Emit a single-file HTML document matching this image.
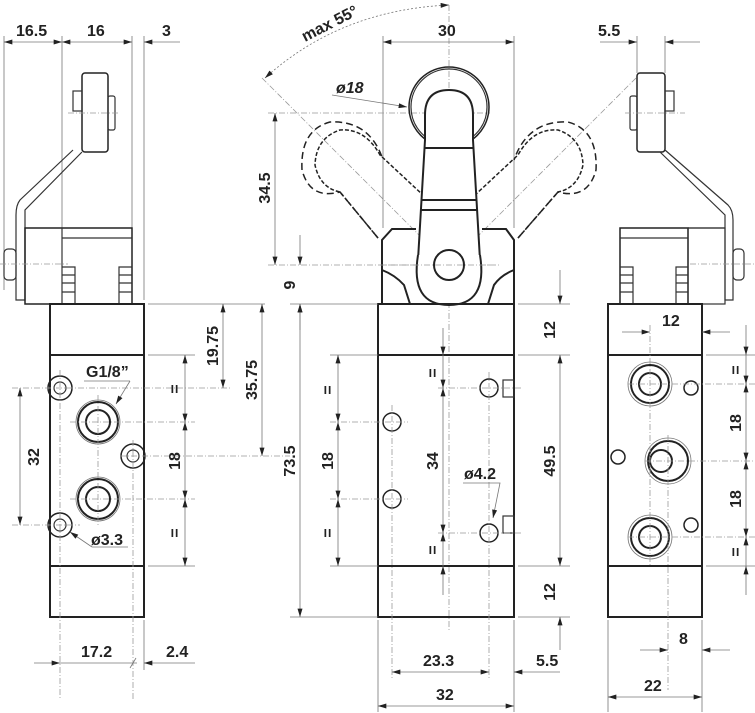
<!DOCTYPE html>
<html><head><meta charset="utf-8"><style>
html,body{margin:0;padding:0;background:#fff}
svg{display:block}
text{font-family:"Liberation Sans",Arial,sans-serif;font-weight:bold;font-size:16px;fill:#222}
.o{stroke:#222;stroke-width:2;fill:none}
.t{stroke:#333;stroke-width:1.2;fill:none}
.d{stroke:#777;stroke-width:0.8;fill:none}
.c{stroke:#999;stroke-width:0.8;fill:none;stroke-dasharray:6 2 1 2}
.h{stroke:#222;stroke-width:1.5;fill:none;stroke-dasharray:7 4}
</style></head><body>
<svg width="755" height="713" viewBox="0 0 755 713" xmlns="http://www.w3.org/2000/svg">
<defs>
<marker id="a" viewBox="0 0 10 6" refX="10" refY="3" markerWidth="14" markerHeight="5" orient="auto-start-reverse" markerUnits="userSpaceOnUse"><path d="M0,0L10,3L0,6z" fill="#222"/></marker>
</defs>

<g>
<line class="d" x1="4" y1="36" x2="4" y2="290"/>
<line class="d" x1="62" y1="36" x2="62" y2="228"/>
<line class="d" x1="132" y1="36" x2="132" y2="228"/>
<line class="d" x1="144" y1="36" x2="144" y2="300"/>
<line class="d" x1="4" y1="42" x2="62" y2="42" marker-start="url(#a)" marker-end="url(#a)"/>
<line class="d" x1="62" y1="42" x2="132" y2="42" marker-start="url(#a)" marker-end="url(#a)"/>
<line class="d" x1="180" y1="42" x2="144" y2="42" marker-end="url(#a)"/>
<text x="16" y="36">16.5</text><text x="87" y="36">16</text><text x="162" y="36">3</text>
<rect class="o" x="82" y="73" width="26" height="79" rx="3" style="stroke-width:1.5"/>
<rect class="t" x="73" y="91" width="9" height="20"/>
<rect class="t" x="108" y="96" width="7" height="34" rx="2"/>
<line class="c" x1="68" y1="113" x2="120" y2="113"/>
<path class="t" d="M73,150 L20,200 Q16,205 16,215 L16,300 L25,300 L25,210 L82,152"/>
<rect class="o" x="25" y="228" width="107" height="76" style="stroke-width:1.5"/>
<line class="t" x1="62" y1="228" x2="62" y2="304"/><line class="t" x1="62" y1="238" x2="132" y2="238"/>
<path class="t" d="M62,267h13v37M62,275h13M62,283h13M62,292h13M119,304v-37h13M119,275h13M119,283h13M119,292h13"/>
<rect class="t" x="4" y="249" width="12" height="31" rx="4"/>
<line class="c" x1="0" y1="264" x2="68" y2="264"/>
<rect class="o" x="50" y="304" width="94" height="313"/>
<line class="o" x1="50" y1="355" x2="144" y2="355"/>
<line class="o" x1="50" y1="566" x2="144" y2="566"/>
<circle class="o" cx="60" cy="388" r="12" style="stroke-width:1.5"/><circle class="t" cx="60" cy="388" r="6"/>
<circle class="o" cx="98" cy="422" r="20"/><circle class="o" cx="98" cy="422" r="12"/><circle class="d" cx="98" cy="422" r="22"/>
<circle class="o" cx="133" cy="456" r="12" style="stroke-width:1.5"/><circle class="t" cx="133" cy="456" r="6"/>
<circle class="o" cx="98" cy="499" r="20"/><circle class="o" cx="98" cy="499" r="12"/><circle class="d" cx="98" cy="499" r="22"/>
<circle class="o" cx="60" cy="525" r="12" style="stroke-width:1.5"/><circle class="t" cx="60" cy="525" r="6"/>
<line class="c" x1="60" y1="370" x2="60" y2="700"/><line class="c" x1="133" y1="440" x2="133" y2="700"/>
<line class="c" x1="12" y1="388" x2="230" y2="388"/><line class="c" x1="70" y1="422" x2="195" y2="422"/>
<line class="c" x1="120" y1="456" x2="290" y2="456"/><line class="c" x1="70" y1="499" x2="195" y2="499"/>
<line class="c" x1="12" y1="525" x2="80" y2="525"/><line class="c" x1="98" y1="395" x2="98" y2="525"/>
<line class="d" x1="84" y1="381" x2="130" y2="381"/><path class="d" d="M130,381 L116,404" marker-end="url(#a)"/>
<text x="86" y="377">G1/8”</text>
<path class="d" d="M92,547 L70,532" marker-end="url(#a)"/><line class="d" x1="92" y1="547" x2="128" y2="547"/>
<text x="91" y="545">ø3.3</text>
<line class="d" x1="20" y1="388" x2="20" y2="525" marker-start="url(#a)" marker-end="url(#a)"/>
<text transform="translate(39,457) rotate(-90)" text-anchor="middle">32</text>
<line class="d" x1="148" y1="355" x2="195" y2="355"/><line class="d" x1="148" y1="566" x2="195" y2="566"/>
<line class="d" x1="148" y1="304" x2="265" y2="304"/>
<line class="d" x1="185" y1="355" x2="185" y2="422" marker-start="url(#a)" marker-end="url(#a)"/>
<line class="d" x1="185" y1="422" x2="185" y2="499" marker-start="url(#a)" marker-end="url(#a)"/>
<line class="d" x1="185" y1="499" x2="185" y2="566" marker-start="url(#a)" marker-end="url(#a)"/>
<text transform="translate(180,389) rotate(-90)" text-anchor="middle">=</text>
<text transform="translate(180,461) rotate(-90)" text-anchor="middle">18</text>
<text transform="translate(180,533) rotate(-90)" text-anchor="middle">=</text>
<line class="d" x1="223" y1="304" x2="223" y2="388" marker-start="url(#a)" marker-end="url(#a)"/>
<text transform="translate(218,346) rotate(-90)" text-anchor="middle">19.75</text>
<line class="d" x1="262" y1="304" x2="262" y2="456" marker-start="url(#a)" marker-end="url(#a)"/>
<text transform="translate(257,380) rotate(-90)" text-anchor="middle">35.75</text>
<line class="d" x1="144" y1="620" x2="144" y2="670"/>
<line class="d" x1="34" y1="663" x2="60" y2="663" marker-end="url(#a)"/>
<line class="d" x1="60" y1="663" x2="137" y2="663"/><line class="d" x1="130" y1="668" x2="136" y2="658"/>
<line class="d" x1="195" y1="663" x2="144" y2="663" marker-end="url(#a)"/>
<text x="81" y="657">17.2</text><text x="166" y="657">2.4</text>
</g>

<g>
<path class="d" d="M265,78 Q340,10 449,5" stroke-dasharray="2 2" marker-start="url(#a)" marker-end="url(#a)"/>
<text transform="translate(305,42) rotate(-27)">max 55°</text>
<line class="c" x1="262" y1="78" x2="449" y2="265"/>
<line class="c" x1="636" y1="78" x2="449" y2="265"/>
<line class="c" x1="449" y1="5" x2="449" y2="630"/>
<line class="d" x1="383" y1="36" x2="383" y2="228"/><line class="d" x1="514" y1="36" x2="514" y2="228"/>
<line class="d" x1="383" y1="42" x2="514" y2="42" marker-start="url(#a)" marker-end="url(#a)"/>
<text x="438" y="36">30</text>
<line class="c" x1="268" y1="113" x2="490" y2="113"/>
<line class="c" x1="268" y1="265" x2="490" y2="265"/>
<line class="d" x1="275" y1="113" x2="275" y2="265" marker-start="url(#a)" marker-end="url(#a)"/>
<text transform="translate(270,188) rotate(-90)" text-anchor="middle">34.5</text>
<line class="d" x1="300" y1="235" x2="300" y2="265" marker-end="url(#a)"/>
<line class="d" x1="300" y1="304" x2="300" y2="330" marker-start="url(#a)"/>
<text transform="translate(295,285) rotate(-90)" text-anchor="middle">9</text>
<path class="h" d="M378,238 L340,192 Q310,200 302,170 Q300,130 330,122 Q370,120 383,160"/>
<path class="h" d="M378,238 L340,192 Q320,188 315,165 Q316,138 340,130 Q365,128 380,155 L424,196" style="stroke-dasharray:4 2"/>
<path class="h" d="M518,238 L558,192 Q588,200 596,170 Q598,130 568,122 Q528,120 514,160"/>
<path class="h" d="M518,238 L558,192 Q578,188 583,165 Q582,138 558,130 Q533,128 518,155 L474,196" style="stroke-dasharray:4 2"/>
<circle class="o" cx="449" cy="107" r="40" style="stroke-width:1.5"/><circle class="t" cx="449" cy="107" r="38"/>
<path class="o" d="M425,140 L425,115 Q425,90 449,90 Q473,90 473,115 L473,140 L480,260 L418,260 Z" style="fill:#fff"/>
<line class="o" x1="424" y1="148" x2="474" y2="148"/>
<line class="o" x1="421" y1="200" x2="477" y2="200"/><line class="o" x1="420" y1="210" x2="478" y2="210"/>
<path class="o" d="M382,304 L382,240 L392,229 L416,229 M482,229 L506,229 L514,240 L514,304"/>
<path class="o" d="M382,270 Q395,275 404,285 L410,304 M514,270 Q501,275 494,285 L488,304"/>
<path class="o" d="M418,255 Q410,305 449,305 Q488,305 480,255" style="fill:#fff"/>
<circle class="o" cx="449" cy="265" r="15"/>
<line class="c" x1="380" y1="265" x2="500" y2="265"/>
<path class="d" d="M332,95 L407,107" marker-end="url(#a)"/>
<text x="336" y="93" font-style="italic">ø18</text>
<rect class="o" x="378" y="304" width="136" height="313"/>
<line class="o" x1="378" y1="355" x2="514" y2="355"/>
<line class="o" x1="378" y1="566" x2="514" y2="566"/>
<circle class="o" cx="392" cy="422" r="9" style="stroke-width:1.5"/>
<circle class="o" cx="392" cy="499" r="9" style="stroke-width:1.5"/>
<circle class="o" cx="489" cy="388" r="9" style="stroke-width:1.5"/>
<circle class="o" cx="489" cy="533" r="9" style="stroke-width:1.5"/>
<rect class="t" x="503" y="380" width="11" height="17"/><rect class="t" x="503" y="516" width="11" height="17"/>
<line class="c" x1="392" y1="405" x2="392" y2="680"/><line class="c" x1="489" y1="372" x2="489" y2="680"/>
<line class="c" x1="330" y1="422" x2="408" y2="422"/><line class="c" x1="330" y1="499" x2="408" y2="499"/>
<line class="c" x1="438" y1="388" x2="522" y2="388"/><line class="c" x1="438" y1="533" x2="522" y2="533"/>
<line class="d" x1="330" y1="355" x2="378" y2="355"/><line class="d" x1="330" y1="566" x2="378" y2="566"/>
<line class="d" x1="338" y1="355" x2="338" y2="422" marker-start="url(#a)" marker-end="url(#a)"/>
<line class="d" x1="338" y1="422" x2="338" y2="499" marker-start="url(#a)" marker-end="url(#a)"/>
<line class="d" x1="338" y1="499" x2="338" y2="566" marker-start="url(#a)" marker-end="url(#a)"/>
<text transform="translate(333,390) rotate(-90)" text-anchor="middle">=</text>
<text transform="translate(333,461) rotate(-90)" text-anchor="middle">18</text>
<text transform="translate(333,533) rotate(-90)" text-anchor="middle">=</text>
<line class="d" x1="443" y1="328" x2="443" y2="355" marker-end="url(#a)"/>
<line class="d" x1="443" y1="355" x2="443" y2="388" marker-end="url(#a)"/>
<line class="d" x1="443" y1="388" x2="443" y2="533" marker-start="url(#a)" marker-end="url(#a)"/>
<line class="d" x1="443" y1="533" x2="443" y2="566" marker-start="url(#a)"/>
<line class="d" x1="443" y1="595" x2="443" y2="566" marker-end="url(#a)"/>
<text transform="translate(438,373) rotate(-90)" text-anchor="middle">=</text>
<text transform="translate(438,461) rotate(-90)" text-anchor="middle">34</text>
<text transform="translate(438,550) rotate(-90)" text-anchor="middle">=</text>
<path class="d" d="M463,483 L500,483 L493,518" marker-end="url(#a)"/>
<text x="464" y="479">ø4.2</text>
<line class="d" x1="518" y1="304" x2="570" y2="304"/><line class="d" x1="518" y1="355" x2="570" y2="355"/>
<line class="d" x1="518" y1="566" x2="570" y2="566"/><line class="d" x1="518" y1="617" x2="570" y2="617"/>
<line class="d" x1="560" y1="270" x2="560" y2="304" marker-end="url(#a)"/>
<line class="d" x1="560" y1="355" x2="560" y2="566" marker-start="url(#a)" marker-end="url(#a)"/>
<line class="d" x1="560" y1="650" x2="560" y2="617" marker-end="url(#a)"/>
<text transform="translate(555,330) rotate(-90)" text-anchor="middle">12</text>
<text transform="translate(555,461) rotate(-90)" text-anchor="middle">49.5</text>
<text transform="translate(555,592) rotate(-90)" text-anchor="middle">12</text>
<line class="d" x1="300" y1="304" x2="300" y2="617" marker-start="url(#a)" marker-end="url(#a)"/>
<line class="d" x1="290" y1="617" x2="378" y2="617"/><line class="d" x1="290" y1="304" x2="378" y2="304"/>
<text transform="translate(295,461) rotate(-90)" text-anchor="middle">73.5</text>
<line class="d" x1="378" y1="620" x2="378" y2="712"/><line class="d" x1="514" y1="620" x2="514" y2="712"/>
<line class="d" x1="392" y1="672" x2="489" y2="672" marker-start="url(#a)" marker-end="url(#a)"/>
<line class="d" x1="560" y1="672" x2="514" y2="672" marker-end="url(#a)"/>
<text x="423" y="666">23.3</text><text x="536" y="666">5.5</text>
<line class="d" x1="378" y1="706" x2="514" y2="706" marker-start="url(#a)" marker-end="url(#a)"/>
<text x="436" y="700">32</text>
</g>

<g>
<line class="d" x1="637" y1="36" x2="637" y2="73"/><line class="d" x1="665" y1="36" x2="665" y2="73"/>
<line class="d" x1="600" y1="42" x2="637" y2="42" marker-end="url(#a)"/>
<line class="d" x1="700" y1="42" x2="665" y2="42" marker-end="url(#a)"/>
<text x="598" y="36">5.5</text>
<rect class="o" x="637" y="73" width="28" height="79" rx="3" style="stroke-width:1.5"/>
<rect class="t" x="665" y="91" width="9" height="20"/>
<rect class="t" x="630" y="96" width="7" height="34" rx="2"/>
<line class="c" x1="625" y1="113" x2="685" y2="113"/>
<path class="t" d="M665,150 L728,205 Q733,210 733,220 L733,300 L725,300 L725,215 L660,152"/>
<rect class="o" x="620" y="228" width="68" height="76" style="stroke-width:1.5"/>
<line class="t" x1="620" y1="238" x2="688" y2="238"/>
<path class="t" d="M688,228h37M620,267h13v37M620,275h13M620,283h13M620,292h13M676,304v-37h12M676,275h12M676,283h12M676,292h12"/>
<rect class="t" x="688" y="228" width="37" height="76"/>
<rect class="t" x="733" y="249" width="11" height="31" rx="4"/>
<line class="c" x1="690" y1="264" x2="755" y2="264"/>
<rect class="o" x="608" y="304" width="94" height="313"/>
<line class="o" x1="608" y1="355" x2="702" y2="355"/>
<line class="o" x1="608" y1="566" x2="702" y2="566"/>
<circle class="o" cx="650" cy="384" r="19"/><circle class="o" cx="650" cy="384" r="11"/><circle class="d" cx="650" cy="384" r="22"/>
<circle class="o" cx="668" cy="461" r="20"/><circle class="o" cx="661" cy="461" r="11"/><circle class="d" cx="668" cy="461" r="23"/>
<circle class="o" cx="650" cy="537" r="19"/><circle class="o" cx="650" cy="537" r="11"/><circle class="d" cx="650" cy="537" r="22"/>
<circle class="o" cx="691" cy="388" r="7" style="stroke-width:1.5"/>
<circle class="o" cx="618" cy="457" r="7" style="stroke-width:1.5"/>
<circle class="o" cx="691" cy="525" r="7" style="stroke-width:1.5"/>
<line class="c" x1="650" y1="325" x2="650" y2="565"/><line class="c" x1="668" y1="435" x2="668" y2="690"/>
<line class="c" x1="628" y1="384" x2="755" y2="384"/><line class="c" x1="645" y1="461" x2="755" y2="461"/>
<line class="c" x1="628" y1="537" x2="755" y2="537"/>
<line class="d" x1="622" y1="332" x2="650" y2="332" marker-end="url(#a)"/>
<line class="d" x1="730" y1="332" x2="702" y2="332" marker-end="url(#a)"/>
<text x="662" y="326">12</text>
<line class="d" x1="706" y1="355" x2="755" y2="355"/><line class="d" x1="706" y1="566" x2="755" y2="566"/>
<line class="d" x1="746" y1="325" x2="746" y2="355" marker-end="url(#a)"/>
<line class="d" x1="746" y1="355" x2="746" y2="384" marker-end="url(#a)"/>
<line class="d" x1="746" y1="384" x2="746" y2="461" marker-start="url(#a)" marker-end="url(#a)"/>
<line class="d" x1="746" y1="461" x2="746" y2="537" marker-start="url(#a)" marker-end="url(#a)"/>
<line class="d" x1="746" y1="537" x2="746" y2="566" marker-start="url(#a)"/>
<line class="d" x1="746" y1="595" x2="746" y2="566" marker-end="url(#a)"/>
<text transform="translate(741,370) rotate(-90)" text-anchor="middle">=</text>
<text transform="translate(741,423) rotate(-90)" text-anchor="middle">18</text>
<text transform="translate(741,499) rotate(-90)" text-anchor="middle">18</text>
<text transform="translate(741,552) rotate(-90)" text-anchor="middle">=</text>
<line class="d" x1="608" y1="620" x2="608" y2="712"/><line class="d" x1="702" y1="620" x2="702" y2="712"/>
<line class="d" x1="640" y1="650" x2="668" y2="650" marker-end="url(#a)"/>
<line class="d" x1="730" y1="650" x2="702" y2="650" marker-end="url(#a)"/>
<text x="679" y="644">8</text>
<line class="d" x1="608" y1="697" x2="702" y2="697" marker-start="url(#a)" marker-end="url(#a)"/>
<text x="644" y="691">22</text>
</g>
</svg>
</body></html>
